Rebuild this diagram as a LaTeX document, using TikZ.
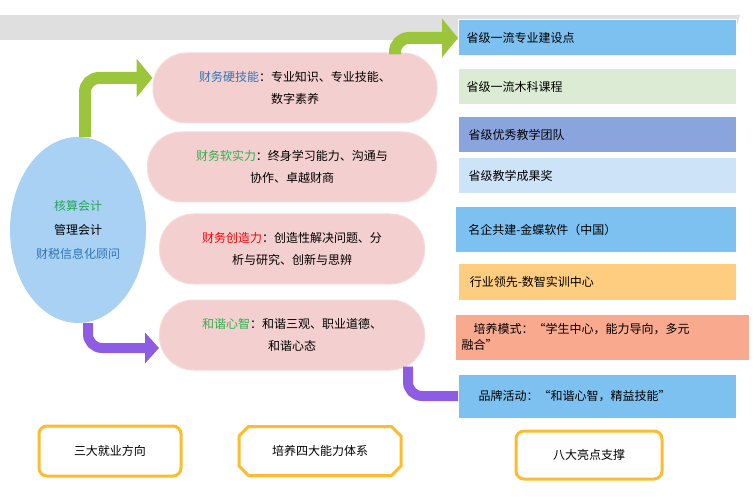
\documentclass[tikz,border=0pt]{standalone}
\usepackage{fontspec}
\setmainfont{Noto Sans CJK SC}
\usetikzlibrary{arrows.meta,shapes.misc,shapes.geometric}
\definecolor{skyb}{HTML}{7DC1F1}
\definecolor{pinkf}{HTML}{F4CFCF}
\definecolor{pinkd}{HTML}{F7DADA}
\definecolor{ellb}{HTML}{A9D1F4}
\definecolor{arrg}{HTML}{9BC63B}
\definecolor{arrp}{HTML}{8E5BE3}
\definecolor{gold}{HTML}{FDBB2D}
\definecolor{tblue}{HTML}{2E75B6}
\definecolor{tgreen}{HTML}{2DB14B}
\definecolor{lgreen}{HTML}{DCEBD3}
\definecolor{team}{HTML}{8AA5DE}
\definecolor{pale}{HTML}{CDE3F7}
\definecolor{apricot}{HTML}{FECD80}
\definecolor{salmon}{HTML}{F9AA8E}
\tikzset{
  pill/.style={draw=pinkd,line width=1pt,fill=pinkf,rounded corners=34pt,minimum height=70pt,text width=250pt,align=center,font=\fontsize{12}{22}\selectfont},
  bar/.style={fill=#1,draw=white,line width=1pt,minimum height=36pt,minimum width=278pt,anchor=west,text width=262pt,align=left,font=\fontsize{12}{16}\selectfont},
  tag/.style={draw=gold,line width=3pt,fill=white,rounded corners=8pt,font=\fontsize{12}{14}\selectfont},
  flowg/.style={arrg,line width=12pt,rounded corners=14pt,-{Triangle[width=38pt,length=16pt]}},
  flowp/.style={arrp,line width=10pt,rounded corners=14pt,-{Triangle[width=30pt,length=14pt]}}
}
\begin{document}
\begin{tikzpicture}[x=1pt,y=-1pt]
\useasboundingbox (0,0) rectangle (756,500);
\fill[gray!25] (0,15) -- (740,15) -- (733,40) -- (0,40) -- cycle;
% left: directions
\node[ellipse,fill=ellb,minimum width=136pt,minimum height=186pt,align=center,font=\fontsize{12}{24}\selectfont] (ell) at (78,230)
  {\textcolor{tgreen!80!teal}{核算会计}\\管理会计\\\textcolor{tblue}{财税信息化顾问}};
% middle: four abilities
\node[pill,minimum width=284pt] (p1) at (295,88) {\textcolor{tblue}{财务硬技能}：专业知识、专业技能、\\数字素养};
\node[pill,minimum width=289pt] (p2) at (292,167) {\textcolor{tgreen}{财务软实力}：终身学习能力、沟通与\\协作、卓越财商};
\node[pill,minimum width=265pt] (p3) at (292,249) {\textcolor{red}{财务创造力}：创造性解决问题、分\\析与研究、创新与思辨};
\node[pill,minimum width=265pt] (p4) at (292,335) {\textcolor{tgreen}{和谐心智}：和谐三观、职业道德、\\和谐心态};
% right: eight highlights
\node[bar=skyb] (r1) at (458,38) {省级一流专业建设点};
\node[bar=lgreen] (r2) at (458,87) {省级一流木科课程};
\node[bar=team] (r3) at (458,135) {\,省级优秀教学团队};
\node[bar=pale] (r4) at (458,176) {\,省级教学成果奖};
\node[bar=skyb,minimum height=46pt,minimum width=281pt] (r5) at (455,230) {\;名企共建-金蝶软件（中国）};
\node[bar=apricot] (r6) at (458,282) {\;行业领先-数智实训中心};
\node[bar=salmon,minimum height=46pt,minimum width=294pt,text width=282pt] (r7) at (455,337) {\quad 培养模式：“学生中心，能力导向，多元\\融合”};
\node[bar=skyb,minimum height=44pt] (r8) at (458,396) {\quad 品牌活动：“和谐心智，精益技能”};
% bottom tags
\node[tag,minimum width=142pt,minimum height=50pt] (t1) at (110,451) {三大就业方向};
\node[tag,chamfered rectangle,chamfered rectangle xsep=6pt,rounded corners=0pt,minimum width=162pt,minimum height=49pt] (t2) at (320,451) {培养四大能力体系};
\node[tag,minimum width=146pt,minimum height=48pt] (t3) at (589,455) {八大亮点支撑};
% flows
\draw[flowg] ([xshift=7pt]ell.north) |- ([yshift=10pt]p1.west);
\draw[flowg] ([xshift=100pt,yshift=-2pt]p1.north) |- (r1.west);
\draw[flowp] ([xshift=10pt]ell.south) |- ([yshift=-13pt]p4.west);
\draw[arrp,line width=10pt,rounded corners=14pt] ([xshift=116pt,yshift=4pt]p4.south) |- (r8.west);
\end{tikzpicture}
\end{document}
